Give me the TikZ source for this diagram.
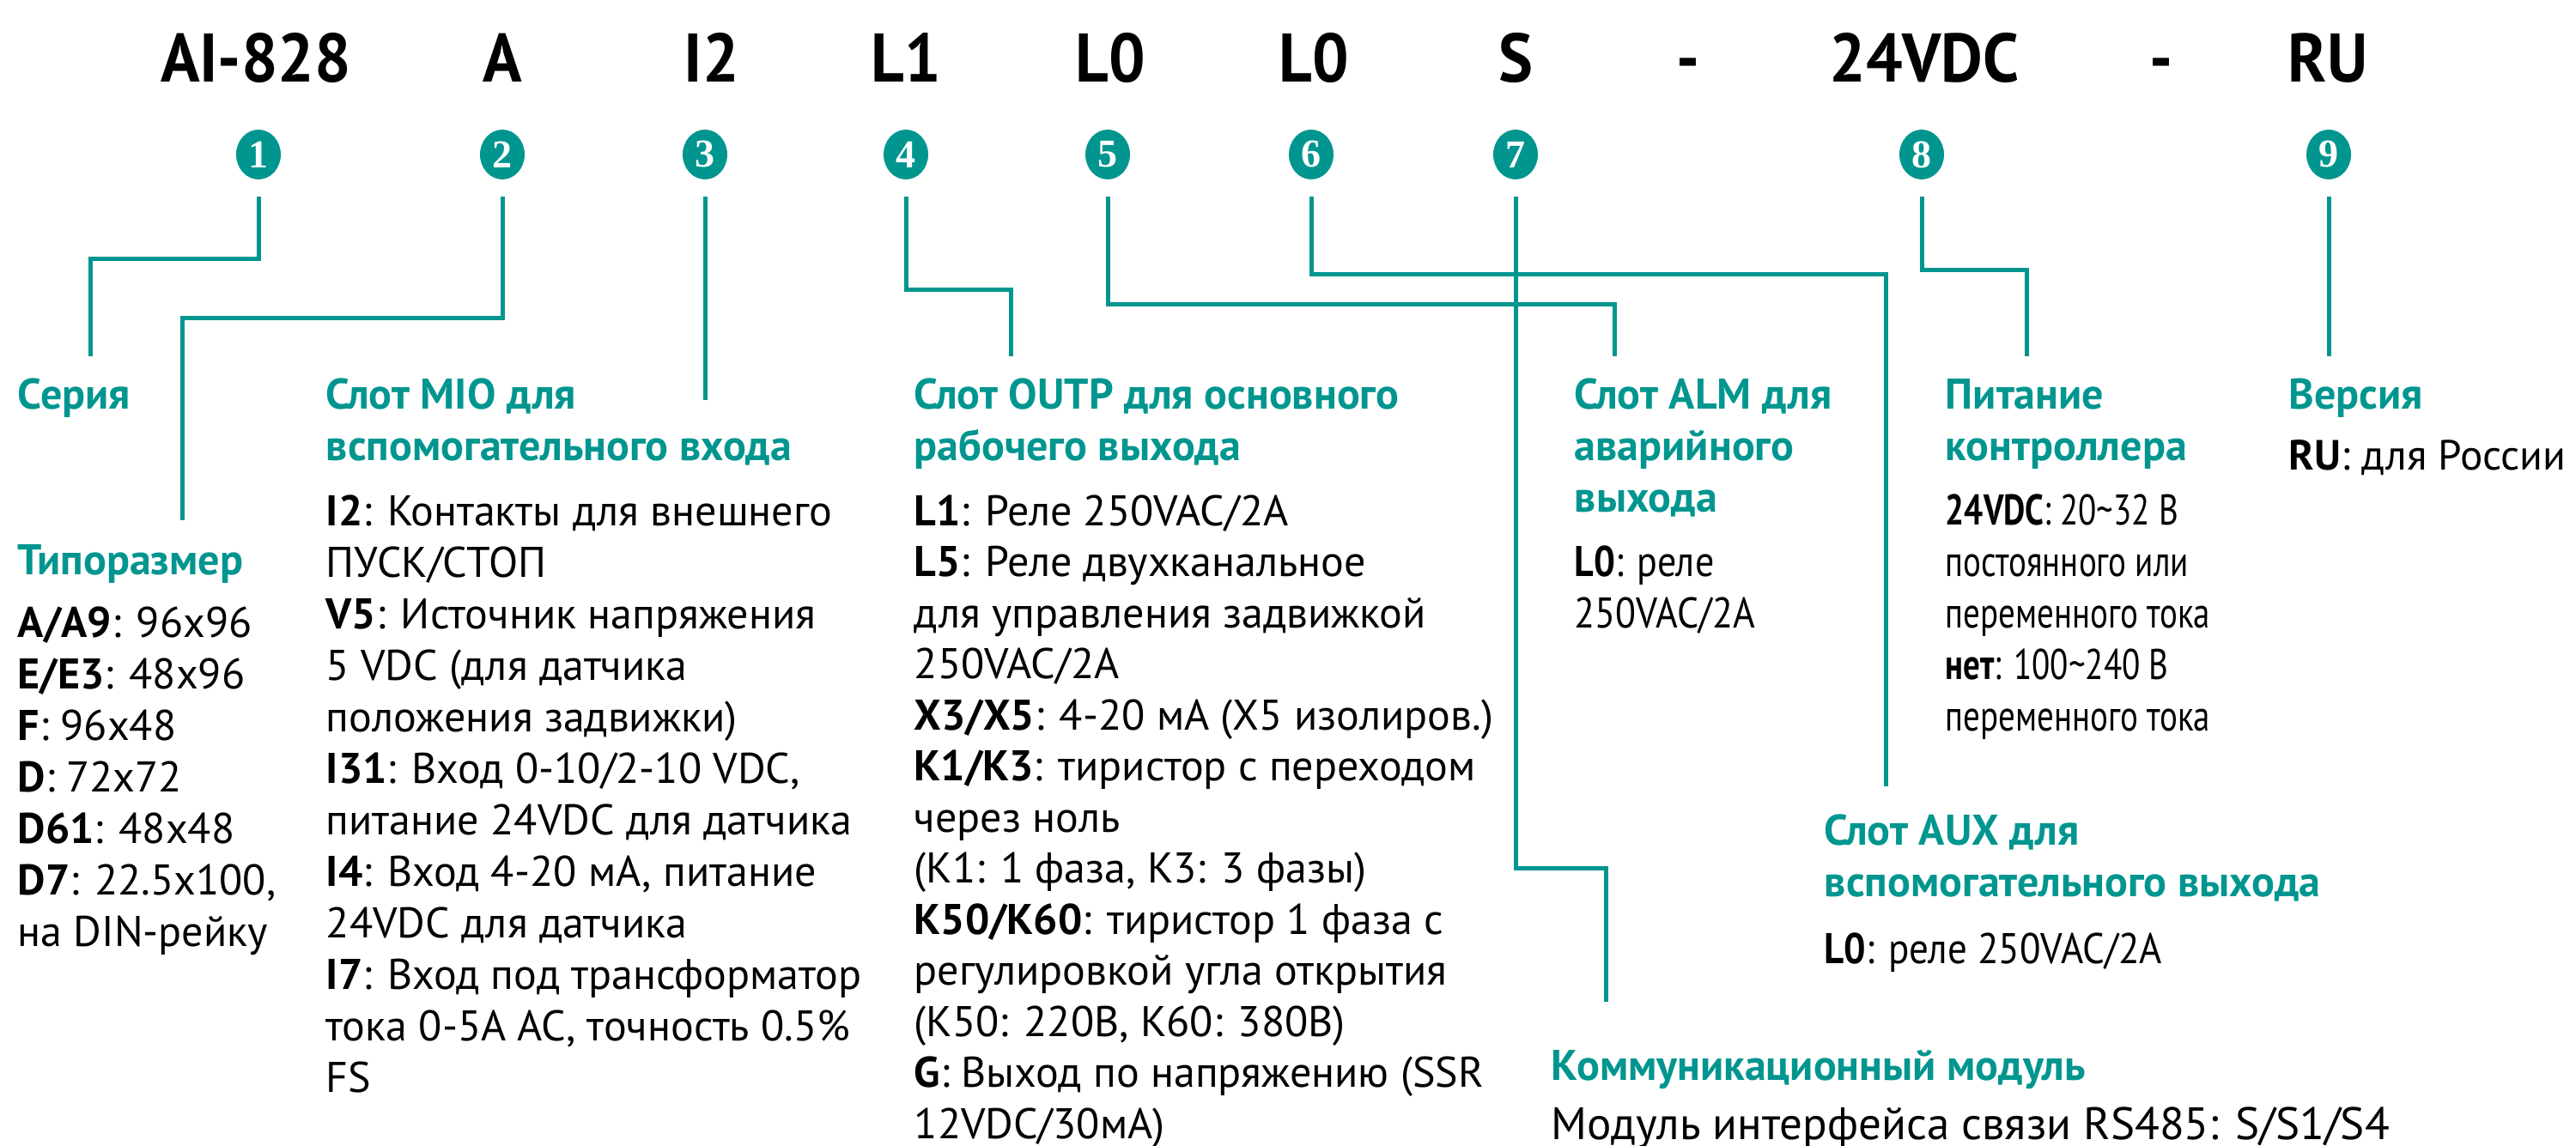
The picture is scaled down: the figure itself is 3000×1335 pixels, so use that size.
\documentclass[tikz,border=0pt]{standalone}
\usepackage{fontspec}
\setmainfont{PT Sans}
\newfontfamily\bodyf{PT Sans}
\newfontfamily\headf{PT Sans}
\newfontfamily\codef[FakeStretch=0.94]{PT Sans}
\newfontfamily\narA[FakeStretch=0.78]{PT Sans}
\newfontfamily\narB[FakeStretch=0.88]{PT Sans}
\newfontfamily\narC[FakeStretch=0.9]{PT Sans}
\newfontfamily\numf{Liberation Serif}
\usetikzlibrary{shapes.geometric}
\definecolor{tealc}{RGB}{0,150,143}
\begin{document}
\begin{tikzpicture}[x=0.25pt,y=-0.25pt,
  conn/.style={draw=tealc, line width=1.25pt, shorten <=4.75pt},
  circ/.style={ellipse, fill=tealc, minimum width=13pt, minimum height=14.5pt, inner sep=0pt, text=white, font=\numf\bfseries\fontsize{11.5}{11.5}\selectfont},
  code/.style={anchor=base, inner sep=0pt, font=\codef\bfseries\fontsize{20}{20}\selectfont},
  head/.style={anchor=base west, inner sep=0pt, align=left, text=tealc, font=\headf\bfseries\fontsize{12.5}{15}\selectfont},
  body/.style={anchor=base west, inner sep=0pt, align=left, font=\bodyf\fontsize{12.5}{15}\selectfont},
  bodyt/.style={body, font=\bodyf\fontsize{12.5}{14.875}\selectfont}]
\fill[white] (0,0) rectangle (3000,1335);
\useasboundingbox (0,0) rectangle (3000,1335);

% header code
\node[code] (h1) at (298,96) {AI-828};
\node[code] (h2) at (585,96) {A};
\node[code] (h3) at (829,96) {I2};
\node[code] (h4) at (1055,96) {L1};
\node[code] (h5) at (1293,96) {L0};
\node[code] (h6) at (1530,96) {L0};
\node[code] (h7) at (1765,96) {S};
\node[code] (h8) at (1966,96) {-};
\node[code] (h9) at (2241,96) {24VDC};
\node[code] (h10) at (2517,96) {-};
\node[code] (h11) at (2711,96) {RU};

% numbered circles
\node[circ] (c1) at (301,180) {1};
\node[circ] (c2) at (585,180) {2};
\node[circ] (c3) at (821,180) {3};
\node[circ] (c4) at (1055,180) {4};
\node[circ] (c5) at (1290,180) {5};
\node[circ] (c6) at (1527,180) {6};
\node[circ] (c7) at (1765,180) {7};
\node[circ] (c8) at (2238,180) {8};
\node[circ] (c9) at (2712,180) {9};

% connector bends and ends
\coordinate (k1) at (105,302);  \coordinate (e1) at (105,415);
\coordinate (k2) at (212,371);  \coordinate (e2) at (212,606);
\coordinate (e3) at (821,466);
\coordinate (k4) at (1177,338); \coordinate (e4) at (1177,415);
\coordinate (k5) at (1880,355); \coordinate (e5) at (1880,415);
\coordinate (k6) at (2196,320); \coordinate (e6) at (2196,916);
\coordinate (k7) at (1870,1012); \coordinate (e7) at (1870,1167);
\coordinate (k8) at (2360,315); \coordinate (e8) at (2360,415);
\coordinate (e9) at (2712,415);

\draw[conn] (c1.south) |- (k1) -- (e1);
\draw[conn] (c2.south) |- (k2) -- (e2);
\draw[conn] (c3.south) -- (e3);
\draw[conn] (c4.south) |- (k4) -- (e4);
\draw[conn] (c5.south) |- (k5) -- (e5);
\draw[conn] (c6.south) |- (k6) -- (e6);
\draw[conn] (c7.south) |- (k7) -- (e7);
\draw[conn] (c8.south) |- (k8) -- (e8);
\draw[conn] (c9.south) -- (e9);

% column 1 (base anchor = last line baseline)
\node[head] (t1) at (20,477) {Серия};
\node[head] (t2) at (20,670) {Типоразмер};
\node[body] (b2) at (20,1103) {\textbf{A/A9}: 96x96\\\textbf{E/E3}: 48x96\\\textbf{F}: 96x48\\\textbf{D}: 72x72\\\textbf{D61}: 48x48\\\textbf{D7}: 22.5x100,\\на DIN-рейку};

% column 2
\node[head] (t3) at (379,537) {Слот MIO для\\вспомогательного входа};
\node[body] (b3) at (379,1272) {\textbf{I2}: Контакты для внешнего\\ПУСК/СТОП\\\textbf{V5}: Источник напряжения\\5 VDC (для датчика\\положения задвижки)\\\textbf{I31}: Вход 0-10/2-10 VDC,\\питание 24VDC для датчика\\\textbf{I4}: Вход 4-20 мА, питание\\24VDC для датчика\\\textbf{I7}: Вход под трансформатор\\тока 0-5A AC, точность 0.5\%\\FS};

% column 3
\node[head] (t4) at (1064,537) {Слот OUTP для основного\\рабочего выхода};
\node[bodyt] (b4) at (1064,1326) {\textbf{L1}: Реле 250VAC/2A\\\textbf{L5}: Реле двухканальное\\для управления задвижкой\\250VAC/2A\\\textbf{X3/X5}: 4-20 мА (X5 изолиров.)\\\textbf{K1/K3}: тиристор с переходом\\через ноль\\(K1: 1 фаза, K3: 3 фазы)\\\textbf{K50/K60}: тиристор 1 фаза с\\регулировкой угла открытия\\(K50: 220В, K60: 380В)\\\textbf{G}: Выход по напряжению (SSR\\12VDC/30мА)};

% ALM
\node[head] (t5) at (1833,597) {Слот ALM для\\аварийного\\выхода};
\node[body, font=\narB\fontsize{12.5}{15}\selectfont] (b5) at (1833,732) {\textbf{L0}: реле\\250VAC/2A};

% power
\node[head] (t8) at (2265,537) {Питание\\контроллера};
\node[body, font=\narA\fontsize{12.5}{15}\selectfont] (b8) at (2265,852) {\textbf{24VDC}: 20\textasciitilde 32 В\\постоянного или\\переменного тока\\\textbf{нет}: 100\textasciitilde 240 В\\переменного тока};

% version
\node[head] (t9) at (2665,477) {Версия};
\node[body, font=\bodyf\fontsize{12.3}{15}\selectfont] (b9) at (2665,548) {\textbf{RU}: для России};

% AUX
\node[head] (t6) at (2124,1045) {Слот AUX для\\вспомогательного выхода};
\node[body, font=\narC\fontsize{12.5}{15}\selectfont] (b6) at (2124,1122) {\textbf{L0}: реле 250VAC/2A};

% comm
\node[head] (t7) at (1806,1258) {Коммуникационный модуль};
\node[body, font=\bodyf\fontsize{13.25}{15}\selectfont] (b7) at (1806,1327) {Модуль интерфейса связи RS485: S/S1/S4};
\end{tikzpicture}
\end{document}
